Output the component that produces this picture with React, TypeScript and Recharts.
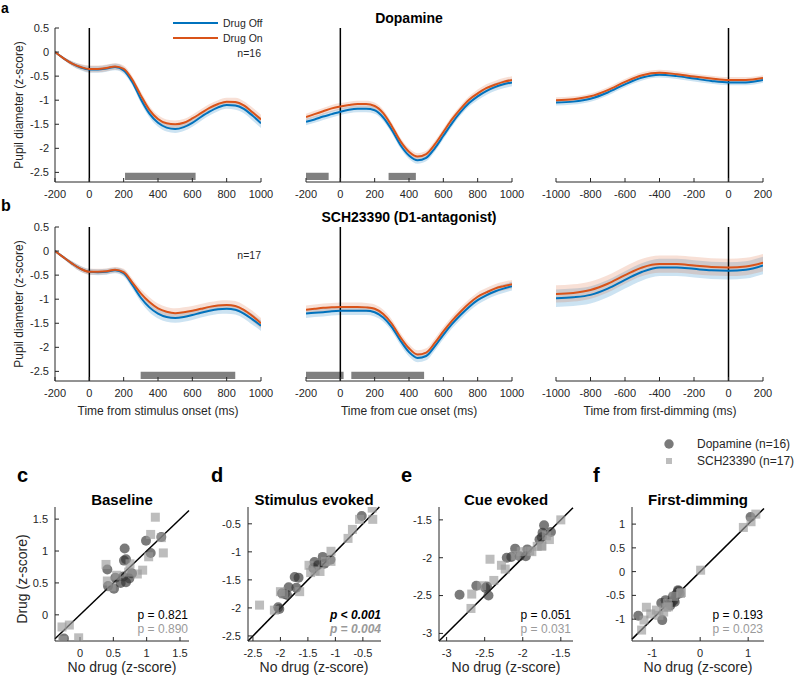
import React from "react";
import {
  Area,
  ComposedChart,
  Line,
  ReferenceArea,
  ReferenceLine,
  Scatter,
  ScatterChart,
  XAxis,
  YAxis,
} from "recharts";

const FONT = "'Liberation Sans', Arial, Helvetica, sans-serif";
const INK = "#262626";
const BLUE = "#0072BD";
const ORANGE = "#D95319";
const DA_FILL = "#333333";
const SCH_FILL = "#999999";

// time grids (ms)
const lockedTime = [-200, -150, -100, -50, 0, 50, 100, 150, 200, 250, 300, 350, 400, 450, 500, 550, 600, 650, 700, 750, 800, 850, 900, 950, 1000];
const dimmingTime = [-1000, -900, -800, -700, -600, -500, -400, -300, -200, -100, 0, 100, 200];

const lockedTicks = [-200, 0, 200, 400, 600, 800, 1000];
const dimmingTicks = [-1000, -800, -600, -400, -200, 0, 200];
const pupilTicks = [-2.5, -2, -1.5, -1, -0.5, 0, 0.5];

// dopamine, stimulus onset
const daStimOff = [0, -0.13, -0.24, -0.32, -0.36, -0.36, -0.34, -0.31, -0.38, -0.62, -0.98, -1.28, -1.47, -1.57, -1.6, -1.56, -1.47, -1.35, -1.24, -1.15, -1.1, -1.11, -1.18, -1.32, -1.48];
const daStimOn = [0, -0.13, -0.24, -0.31, -0.35, -0.35, -0.33, -0.3, -0.35, -0.57, -0.9, -1.2, -1.39, -1.48, -1.5, -1.47, -1.38, -1.27, -1.16, -1.08, -1.03, -1.04, -1.11, -1.25, -1.4];
const daStimSem = [0, 0.03, 0.05, 0.06, 0.07, 0.07, 0.07, 0.07, 0.07, 0.07, 0.08, 0.08, 0.08, 0.08, 0.08, 0.08, 0.08, 0.08, 0.08, 0.08, 0.08, 0.09, 0.09, 0.1, 0.1];
const daStimSig = [[208, 619]];

// dopamine, cue onset
const daCueOff = [-1.45, -1.4, -1.34, -1.29, -1.24, -1.2, -1.18, -1.18, -1.21, -1.36, -1.62, -1.93, -2.15, -2.25, -2.2, -2.0, -1.74, -1.48, -1.25, -1.06, -0.92, -0.81, -0.73, -0.67, -0.63];
const daCueOn = [-1.35, -1.29, -1.23, -1.17, -1.13, -1.1, -1.08, -1.08, -1.12, -1.27, -1.54, -1.85, -2.07, -2.17, -2.12, -1.92, -1.66, -1.4, -1.18, -0.99, -0.86, -0.75, -0.68, -0.62, -0.58];
const daCueSem = [0.07, 0.07, 0.07, 0.07, 0.07, 0.07, 0.07, 0.07, 0.07, 0.07, 0.07, 0.07, 0.07, 0.07, 0.07, 0.07, 0.07, 0.07, 0.07, 0.07, 0.08, 0.08, 0.08, 0.08, 0.08];
const daCueSig = [[-200, -68], [281, 440]];

// dopamine, first dimming
const daDimOff = [-1.05, -1.03, -0.97, -0.84, -0.67, -0.53, -0.47, -0.5, -0.55, -0.6, -0.63, -0.63, -0.58];
const daDimOn = [-1.0, -0.98, -0.92, -0.79, -0.62, -0.48, -0.43, -0.46, -0.51, -0.55, -0.58, -0.58, -0.54];
const daDimSem = [0.06, 0.06, 0.06, 0.06, 0.06, 0.06, 0.06, 0.06, 0.06, 0.06, 0.06, 0.06, 0.06];

// SCH23390, stimulus onset
const schStimOff = [0, -0.13, -0.26, -0.37, -0.43, -0.44, -0.43, -0.4, -0.46, -0.7, -0.97, -1.17, -1.3, -1.37, -1.39, -1.37, -1.33, -1.28, -1.24, -1.21, -1.2, -1.22, -1.3, -1.42, -1.55];
const schStimOn = [0, -0.13, -0.26, -0.37, -0.43, -0.43, -0.42, -0.39, -0.44, -0.65, -0.88, -1.06, -1.19, -1.26, -1.29, -1.27, -1.24, -1.2, -1.16, -1.13, -1.12, -1.14, -1.22, -1.35, -1.5];
const schStimSem = [0, 0.03, 0.05, 0.06, 0.06, 0.06, 0.06, 0.06, 0.07, 0.08, 0.09, 0.1, 0.1, 0.1, 0.1, 0.1, 0.1, 0.1, 0.1, 0.1, 0.1, 0.1, 0.1, 0.11, 0.11];
const schStimSig = [[299, 850]];

// SCH23390, cue onset
const schCueOff = [-1.3, -1.28, -1.27, -1.25, -1.24, -1.24, -1.24, -1.24, -1.27, -1.38, -1.58, -1.86, -2.1, -2.22, -2.18, -1.98, -1.74, -1.52, -1.33, -1.16, -1.02, -0.92, -0.84, -0.78, -0.73];
const schCueOn = [-1.22, -1.2, -1.18, -1.17, -1.16, -1.16, -1.16, -1.17, -1.2, -1.31, -1.51, -1.79, -2.02, -2.15, -2.11, -1.91, -1.67, -1.45, -1.26, -1.09, -0.95, -0.86, -0.78, -0.73, -0.69];
const schCueSem = [0.09, 0.09, 0.09, 0.09, 0.09, 0.09, 0.09, 0.09, 0.09, 0.09, 0.09, 0.09, 0.09, 0.09, 0.09, 0.09, 0.09, 0.09, 0.09, 0.09, 0.09, 0.09, 0.09, 0.09, 0.09];
const schCueSig = [[-200, 19], [64, 488]];

// SCH23390, first dimming
const schDimOff = [-0.98, -0.96, -0.91, -0.78, -0.6, -0.43, -0.34, -0.34, -0.37, -0.4, -0.41, -0.39, -0.3];
const schDimOn = [-0.89, -0.87, -0.81, -0.68, -0.5, -0.34, -0.27, -0.27, -0.3, -0.33, -0.34, -0.32, -0.24];
const schDimSem = [0.18, 0.18, 0.18, 0.18, 0.18, 0.18, 0.18, 0.18, 0.18, 0.18, 0.18, 0.18, 0.18];

// per-session scatter: [no drug, drug]
const baselineDa = [[0.41, 0.71], [0.53, 0.58], [0.51, 0.41], [0.65, 0.6], [0.61, 0.5], [0.69, 0.51], [0.74, 0.57], [0.78, 0.65], [0.66, 0.85], [0.69, 0.87], [0.67, 1.04], [0.99, 1.16], [1.06, 0.97], [1.22, 1.22], [0.42, 0.45], [-0.24, -0.37]];
const baselineSch = [[-0.27, -0.19], [-0.16, -0.16], [-0.02, -0.36], [0.39, 0.79], [0.41, 0.53], [0.73, 0.67], [0.86, 0.64], [0.94, 0.7], [1.03, 0.91], [1.06, 1.26], [1.13, 1.53], [1.25, 0.97], [1.22, 1.21], [0.47, 0.44], [0.75, 0.8], [0.55, 0.62], [-0.26, -0.4]];
const stimDa = [[-0.52, -0.36], [-1.38, -1.18], [-1.23, -1.09], [-1.09, -1.14], [-1.74, -1.45], [-1.67, -1.46], [-1.85, -1.63], [-1.97, -1.74], [-1.92, -1.75], [-1.88, -1.77], [-1.71, -1.64], [-2.04, -1.99], [-1.4, -1.29], [-1.32, -1.24], [-1.2, -1.21], [-2.02, -2.02]];
const stimSch = [[-0.33, -0.22], [-0.32, -0.42], [-0.56, -0.42], [-0.69, -0.6], [-0.77, -0.76], [-1.08, -0.99], [-1.08, -1.17], [-1.48, -1.24], [-1.28, -1.35], [-1.37, -1.34], [-1.65, -1.71], [-1.94, -1.75], [-2.11, -2.04], [-2.38, -1.95], [-1.18, -1.17], [-1.45, -1.37], [-2.0, -1.71]];
const cueDa = [[-2.83, -2.49], [-2.61, -2.37], [-2.47, -2.38], [-2.45, -2.5], [-2.49, -2.4], [-2.21, -2.0], [-2.15, -1.99], [-2.1, -1.88], [-2.04, -1.98], [-1.96, -1.98], [-1.94, -1.89], [-1.78, -1.76], [-1.74, -1.67], [-1.72, -1.57], [-1.63, -1.66], [-1.75, -1.73]];
const cueSch = [[-2.68, -2.67], [-2.67, -2.48], [-2.54, -2.37], [-2.38, -2.3], [-2.43, -2.02], [-2.28, -2.1], [-2.23, -2.15], [-2.1, -1.97], [-2.02, -1.92], [-1.91, -1.91], [-1.81, -1.85], [-1.75, -1.84], [-1.65, -1.76], [-1.5, -1.5], [-1.69, -1.71], [-1.75, -1.85], [-1.88, -1.92]];
const dimDa = [[-1.29, -0.93], [-0.79, -1.02], [-0.81, -0.66], [-0.63, -0.66], [-0.53, -0.64], [-0.57, -0.53], [-0.48, -0.45], [-0.45, -0.41], [-0.62, -0.71], [-0.5, -0.49], [-0.43, -0.46], [1.05, 1.15], [-0.72, -0.6], [-0.55, -0.6], [-0.46, -0.39], [-0.59, -0.64]];
const dimSch = [[-1.22, -1.23], [-1.12, -0.75], [-1.03, -0.89], [-0.91, -0.81], [-0.86, -0.92], [-0.7, -0.75], [-0.68, -0.67], [-0.39, -0.44], [0.01, 0.03], [0.9, 0.93], [1.06, 1.05], [1.16, 1.21], [-0.55, -0.52], [-0.76, -0.85], [-0.66, -0.74], [-0.41, -0.46], [-1.17, -1.02]];

const tickStyle = { fill: INK, fontSize: 11, fontFamily: FONT };

function buildRows(time: number[], off: number[], on: number[], sem: number[]) {
  return time.map((t, i) => ({
    t,
    off: off[i],
    on: on[i],
    offBand: [off[i] - sem[i], off[i] + sem[i]],
    onBand: [on[i] - sem[i], on[i] + sem[i]],
  }));
}

// plot area is always 55px in from `left`, and `plotWidth` wide
function PupilPanel({ left, top, plotWidth, rows, xTicks, showY, sig }: any) {
  const domain = [xTicks[0], xTicks[xTicks.length - 1]];
  return (
    <div style={{ position: "absolute", left, top }}>
      <ComposedChart width={plotWidth + 55 + 22} height={215} data={rows} margin={{ top: 28, right: 22, bottom: 0, left: showY ? 0 : 55 }}>
        <XAxis dataKey="t" type="number" domain={domain} ticks={xTicks} interval={0} allowDataOverflow
          height={33} tickSize={-4} tickMargin={12} stroke={INK} tick={tickStyle} />
        <YAxis type="number" domain={[-2.7, 0.5]} ticks={pupilTicks} interval={0} allowDataOverflow hide={!showY}
          width={55} tickSize={-4} tickMargin={10} stroke={INK} tick={tickStyle} axisLine={showY} />
        {sig.map(([a, b]: number[], i: number) => (
          <ReferenceArea key={i} x1={a} x2={b} y1={-2.66} y2={-2.51} fill="#808080" fillOpacity={1} stroke="none" />
        ))}
        <Area dataKey="offBand" type="monotone" fill={BLUE} fillOpacity={0.2} stroke="none" isAnimationActive={false} />
        <Area dataKey="onBand" type="monotone" fill={ORANGE} fillOpacity={0.18} stroke="none" isAnimationActive={false} />
        <ReferenceLine x={0} stroke="#000" strokeWidth={1.5} />
        <Line dataKey="off" type="monotone" stroke={BLUE} strokeWidth={2} dot={false} isAnimationActive={false} />
        <Line dataKey="on" type="monotone" stroke={ORANGE} strokeWidth={2} dot={false} isAnimationActive={false} />
      </ComposedChart>
    </div>
  );
}

const circleShape = (p: any) => <circle cx={p.cx} cy={p.cy} r={5} fill={DA_FILL} fillOpacity={0.65} />;
const squareShape = (p: any) => <rect x={p.cx - 4.5} y={p.cy - 4.5} width={9} height={9} fill={SCH_FILL} fillOpacity={0.65} />;

function ScatterPanel({ left, width, xDomain, yDomain, xTicks, yTicks, da, sch }: any) {
  const lo = Math.max(xDomain[0], yDomain[0]);
  const hi = Math.min(xDomain[1], yDomain[1]);
  const daPts = da.map(([x, y]: number[]) => ({ x, y }));
  const schPts = sch.map(([x, y]: number[]) => ({ x, y }));
  return (
    <div style={{ position: "absolute", left, top: 497 }}>
      <ScatterChart width={width + 10} height={164} margin={{ top: 10, right: 15, bottom: 0, left: 0 }}>
        <XAxis dataKey="x" type="number" domain={xDomain} ticks={xTicks} interval={0} allowDataOverflow
          height={20} tickSize={-4} tickMargin={12} stroke={INK} tick={tickStyle} />
        <YAxis dataKey="y" type="number" domain={yDomain} ticks={yTicks} interval={0} allowDataOverflow
          width={45} tickSize={-4} tickMargin={11} stroke={INK} tick={tickStyle} />
        <Scatter data={daPts} shape={circleShape} isAnimationActive={false} />
        <Scatter data={schPts} shape={squareShape} isAnimationActive={false} />
        <ReferenceLine segment={[{ x: lo, y: lo }, { x: hi, y: hi }]} stroke="#000" strokeWidth={1.5} />
      </ScatterChart>
    </div>
  );
}

export default function App() {
  return (
    <div style={{ position: "absolute", left: 0, top: 0, width: 798, height: 678, background: "#fff", fontFamily: FONT }}>
      <PupilPanel left={0} top={0} plotWidth={206} rows={buildRows(lockedTime, daStimOff, daStimOn, daStimSem)} xTicks={lockedTicks} showY sig={daStimSig} />
      <PupilPanel left={251} top={0} plotWidth={206} rows={buildRows(lockedTime, daCueOff, daCueOn, daCueSem)} xTicks={lockedTicks} showY={false} sig={daCueSig} />
      <PupilPanel left={501} top={0} plotWidth={207} rows={buildRows(dimmingTime, daDimOff, daDimOn, daDimSem)} xTicks={dimmingTicks} showY={false} sig={[]} />
      <PupilPanel left={0} top={199} plotWidth={206} rows={buildRows(lockedTime, schStimOff, schStimOn, schStimSem)} xTicks={lockedTicks} showY sig={schStimSig} />
      <PupilPanel left={251} top={199} plotWidth={206} rows={buildRows(lockedTime, schCueOff, schCueOn, schCueSem)} xTicks={lockedTicks} showY={false} sig={schCueSig} />
      <PupilPanel left={501} top={199} plotWidth={207} rows={buildRows(dimmingTime, schDimOff, schDimOn, schDimSem)} xTicks={dimmingTicks} showY={false} sig={[]} />

      <ScatterPanel left={10} width={184} xDomain={[-0.375, 1.635]} yDomain={[-0.41, 1.69]} xTicks={[0, 0.5, 1, 1.5]} yTicks={[0, 0.5, 1, 1.5]} da={baselineDa} sch={baselineSch} />
      <ScatterPanel left={203} width={183} xDomain={[-2.59, -0.17]} yDomain={[-2.59, -0.2]} xTicks={[-2.5, -2, -1.5, -1, -0.5]} yTicks={[-2.5, -2, -1.5, -1, -0.5]} da={stimDa} sch={stimSch} />
      <ScatterPanel left={394} width={184} xDomain={[-3.1, -1.34]} yDomain={[-3.1, -1.33]} xTicks={[-3, -2.5, -2, -1.5]} yTicks={[-3, -2.5, -2, -1.5]} da={cueDa} sch={cueSch} />
      <ScatterPanel left={587} width={182} xDomain={[-1.42, 1.33]} yDomain={[-1.46, 1.36]} xTicks={[-1, 0, 1]} yTicks={[-1, -0.5, 0, 0.5, 1]} da={dimDa} sch={dimSch} />

      <svg width={798} height={678} style={{ position: "absolute", left: 0, top: 0, pointerEvents: "none" }} fontFamily={FONT}>
        {/* panel letters */}
        <text x={1} y={13} fontSize={14} fontWeight="bold" fill="#000">a</text>
        <text x={1} y={211} fontSize={16} fontWeight="bold" fill="#000">b</text>
        <text x={17} y={482} fontSize={20} fontWeight="bold" fill="#000">c</text>
        <text x={211} y={482} fontSize={20} fontWeight="bold" fill="#000">d</text>
        <text x={401} y={482} fontSize={20} fontWeight="bold" fill="#000">e</text>
        <text x={593} y={482} fontSize={20} fontWeight="bold" fill="#000">f</text>

        {/* titles */}
        <text x={409} y={23} fontSize={14} fontWeight="bold" textAnchor="middle" fill="#000">Dopamine</text>
        <text x={409} y={222} fontSize={14} fontWeight="bold" textAnchor="middle" fill="#000">SCH23390 (D1-antagonist)</text>

        {/* legend */}
        <line x1={173} x2={218} y1={23} y2={23} stroke={BLUE} strokeWidth={2} />
        <line x1={173} x2={218} y1={38} y2={38} stroke={ORANGE} strokeWidth={2} />
        <text x={223} y={27} fontSize={10.5} fill={INK}>Drug Off</text>
        <text x={223} y={42} fontSize={10.5} fill={INK}>Drug On</text>
        <text x={261} y={57} fontSize={10.5} textAnchor="end" fill={INK}>n=16</text>
        <text x={261} y={259} fontSize={10.5} textAnchor="end" fill={INK}>n=17</text>

        {/* pupil axis labels */}
        <text transform="translate(23,105) rotate(-90)" fontSize={12} textAnchor="middle" fill={INK}>Pupil diameter (z-score)</text>
        <text transform="translate(23,304) rotate(-90)" fontSize={12} textAnchor="middle" fill={INK}>Pupil diameter (z-score)</text>
        <text x={158} y={415} fontSize={12} textAnchor="middle" fill={INK}>Time from stimulus onset (ms)</text>
        <text x={409} y={415} fontSize={12} textAnchor="middle" fill={INK}>Time from cue onset (ms)</text>
        <text x={660} y={415} fontSize={12} textAnchor="middle" fill={INK}>Time from first-dimming (ms)</text>

        {/* scatter legend */}
        <circle cx={669} cy={444} r={4.7} fill={DA_FILL} fillOpacity={0.65} />
        <rect x={666} y={458} width={6} height={6} fill={SCH_FILL} fillOpacity={0.65} />
        <text x={697} y={448} fontSize={12} fill={INK}>Dopamine (n=16)</text>
        <text x={697} y={465} fontSize={12} fill={INK}>SCH23390 (n=17)</text>

        {/* scatter titles */}
        <text x={122} y={505} fontSize={15} fontWeight="bold" textAnchor="middle" fill="#000">Baseline</text>
        <text x={314} y={505} fontSize={15} fontWeight="bold" textAnchor="middle" fill="#000">Stimulus evoked</text>
        <text x={506} y={505} fontSize={15} fontWeight="bold" textAnchor="middle" fill="#000">Cue evoked</text>
        <text x={698} y={505} fontSize={15} fontWeight="bold" textAnchor="middle" fill="#000">First-dimming</text>

        {/* scatter axis labels */}
        <text transform="translate(27,579) rotate(-90)" fontSize={14} textAnchor="middle" fill={INK}>Drug (z-score)</text>
        <text x={122} y={672} fontSize={14} textAnchor="middle" fill={INK}>No drug (z-score)</text>
        <text x={314} y={672} fontSize={14} textAnchor="middle" fill={INK}>No drug (z-score)</text>
        <text x={506} y={672} fontSize={14} textAnchor="middle" fill={INK}>No drug (z-score)</text>
        <text x={698} y={672} fontSize={14} textAnchor="middle" fill={INK}>No drug (z-score)</text>

        {/* p-values */}
        <text x={188} y={619} fontSize={12} textAnchor="end" fill="#000">p = 0.821</text>
        <text x={188} y={633} fontSize={12} textAnchor="end" fill="#9a9a9a">p = 0.890</text>
        <text x={381} y={619} fontSize={12} textAnchor="end" fontWeight="bold" fontStyle="italic" fill="#000">p &lt; 0.001</text>
        <text x={381} y={633} fontSize={12} textAnchor="end" fontWeight="bold" fontStyle="italic" fill="#9a9a9a">p = 0.004</text>
        <text x={571} y={619} fontSize={12} textAnchor="end" fill="#000">p = 0.051</text>
        <text x={571} y={633} fontSize={12} textAnchor="end" fill="#9a9a9a">p = 0.031</text>
        <text x={763} y={619} fontSize={12} textAnchor="end" fill="#000">p = 0.193</text>
        <text x={763} y={633} fontSize={12} textAnchor="end" fill="#9a9a9a">p = 0.023</text>
      </svg>
    </div>
  );
}
